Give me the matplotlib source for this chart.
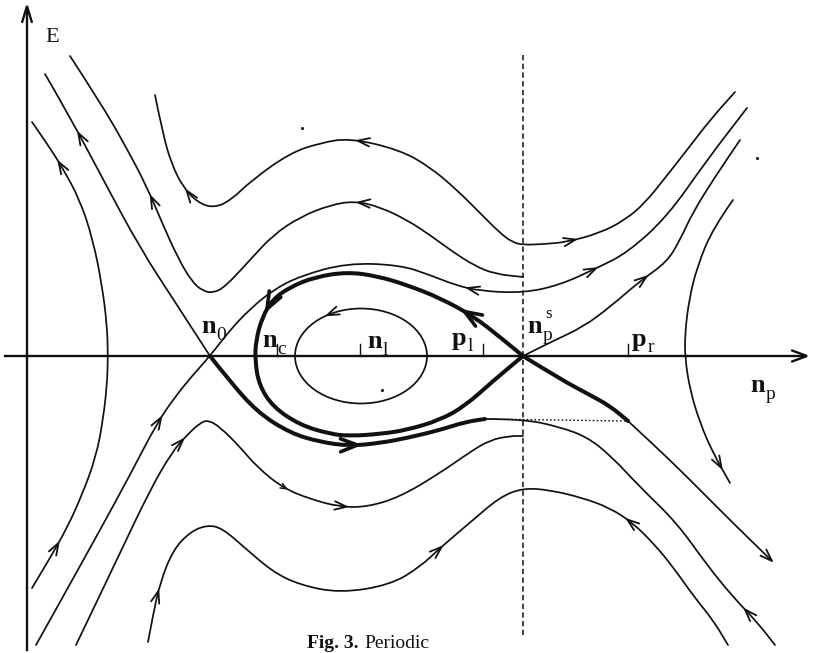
import numpy as np
import matplotlib
matplotlib.use("Agg")
import matplotlib.pyplot as plt
from matplotlib.path import Path
from matplotlib.patches import PathPatch, Ellipse

# ---------------- data (sketch coordinates, pixel units, y downward) ----------------
axis_y = 356          # E = 0 line
axis_x = 27           # n_p = 0 line
np_s_x = 523          # position of n_p^s (dashed line)
tick_x = [277, 360, 483, 628]          # n_c, n_l, p_l, p_r ticks

orbit_top = [(155, 95), (163, 135), (172, 165), (183, 187), (197, 202), (213, 208), (230, 201),
             (252, 180), (290, 153), (320, 143), (350, 138), (400, 150), (430, 167), (457, 190),
             (480, 213), (500, 233), (512, 242), (523, 245), (545, 244), (567, 242), (600, 233),
             (625, 220), (645, 203), (665, 178), (687, 150), (710, 120), (735, 92)]
orbit_upper = [(70, 56), (100, 102), (125, 145), (147, 187), (163, 225), (178, 258), (192, 282),
               (203, 291), (213, 293), (225, 287), (250, 260), (273, 235), (300, 217), (330, 205),
               (355, 201), (380, 207), (407, 220), (430, 235), (453, 252), (475, 266), (495, 274),
               (523, 277)]
sep_n0_upleft = [(45, 74), (70, 117), (105, 183), (140, 248), (175, 302), (210, 356)]
sep_n0_lowleft = [(36, 645), (50, 620), (75, 575), (100, 530), (130, 475), (157, 423), (175, 397),
                  (192, 376), (210, 356), (230, 330), (250, 309), (273, 290), (300, 276), (347, 263),
                  (400, 265), (430, 275), (455, 285), (480, 291), (523, 293), (560, 285), (597, 268),
                  (627, 253), (667, 217), (707, 160), (747, 108)]
sep_nps_upright = [(523, 356), (553, 341), (583, 327), (610, 307), (640, 281), (667, 262),
                   (680, 240), (693, 212), (715, 177), (740, 140)]
right_branch = [(733, 200), (713, 228), (697, 267), (689, 300), (685, 333), (685, 358), (690, 390),
                (700, 423), (713, 453), (730, 483)]
left_branch = [(32, 122), (48, 145), (62, 167), (80, 200), (93, 240), (102, 285), (107, 325),
               (108, 356), (107, 385), (103, 420), (96, 457), (82, 495), (67, 528), (50, 558),
               (32, 588)]
orbit_lower = [(76, 645), (88, 620), (120, 553), (150, 490), (172, 452), (187, 435), (200, 423),
               (208, 420), (220, 427), (240, 447), (257, 467), (283, 488), (310, 499), (340, 507),
               (367, 507), (400, 497), (440, 473), (470, 452), (490, 440), (510, 436), (523, 436)]
orbit_bottom = [(148, 642), (153, 615), (160, 583), (173, 550), (190, 532), (207, 525), (222, 528),
                (245, 548), (273, 572), (300, 585), (340, 593), (390, 585), (420, 567), (440, 548),
                (473, 520), (500, 497), (523, 488), (550, 490), (583, 498), (610, 508), (633, 523),
                (655, 545), (673, 567), (695, 598), (713, 620), (728, 645)]
thick_outer = [(210, 356), (228, 379), (257, 412), (290, 433), (320, 442), (350, 446), (380, 443),
               (407, 438), (440, 430), (465, 422), (485, 419)]
outer_cont = [(485, 419), (523, 419), (560, 427), (587, 437), (610, 455), (640, 487), (677, 523),
              (707, 565), (733, 597), (757, 622), (775, 645)]
thick_loop = [(523, 356), (500, 337), (473, 316), (440, 298), (407, 285), (377, 276), (347, 272),
              (315, 277), (290, 287), (272, 300), (262, 318), (256, 340), (255, 360), (259, 385),
              (273, 407), (300, 425), (330, 434), (350, 436), (380, 434), (407, 430), (440, 420),
              (465, 406), (493, 381), (523, 356)]
thick_sep_right = [(523, 356), (560, 379), (590, 395), (610, 406), (628, 421)]
sep_right_cont = [(628, 421), (655, 446), (680, 470), (700, 490), (735, 525), (772, 561)]
inner_orbit = dict(center=(361, 356), width=132, height=95)
dotted_level = [(480, 419), (628, 421)]

thin_curves = {
    "orbit_top": orbit_top, "orbit_upper": orbit_upper, "sep_n0_upleft": sep_n0_upleft,
    "sep_n0_lowleft": sep_n0_lowleft, "sep_nps_upright": sep_nps_upright,
    "right_branch": right_branch, "left_branch": left_branch, "orbit_lower": orbit_lower,
    "orbit_bottom": orbit_bottom, "outer_cont": outer_cont, "sep_right_cont": sep_right_cont,
}
thick_curves = {"thick_outer": thick_outer, "thick_loop": thick_loop,
                "thick_sep_right": thick_sep_right}

# arrows: curve, approx location, direction (+1 along point order), size
arrows = [
    ("orbit_top", (183, 187), -1, "n"), ("orbit_top", (357, 139), -1, "n"),
    ("orbit_top", (573, 240), 1, "n"),
    ("orbit_upper", (147, 187), -1, "n"), ("orbit_upper", (360, 202), -1, "n"),
    ("sep_n0_upleft", (70, 117), -1, "n"),
    ("sep_n0_lowleft", (157, 423), 1, "n"), ("sep_n0_lowleft", (470, 289), -1, "n"),
    ("sep_n0_lowleft", (597, 268), 1, "n"),
    ("sep_nps_upright", (640, 281), 1, "n"),
    ("right_branch", (722, 470), 1, "n"),
    ("left_branch", (62, 167), -1, "n"), ("left_branch", (60, 545), -1, "n"),
    ("orbit_lower", (186, 436), 1, "n"), ("orbit_lower", (285, 489), 1, "s"),
    ("orbit_lower", (348, 508), 1, "n"),
    ("orbit_bottom", (160, 583), 1, "n"), ("orbit_bottom", (443, 545), 1, "n"),
    ("orbit_bottom", (633, 523), -1, "n"),
    ("outer_cont", (748, 610), -1, "n"),
    ("sep_right_cont", (768, 557), 1, "n"),
    ("thick_loop", (470, 315), 1, "t"), ("thick_loop", (264, 308), 1, "t"),
    ("thick_outer", (356, 446), 1, "t"),
]

labels = [  # (base, sub, sup, x, y)
    ("n", "0", "", 201, 333), ("n", "c", "", 262, 347), ("n", "l", "", 367, 348),
    ("p", "l", "", 452, 345), ("n", "p", "s", 527, 333), ("p", "r", "", 632, 346),
    ("n", "p", "", 750, 392),
]
dots = [(382, 390), (302, 128), (757, 158)]
caption_bold = "Fig. 3."
caption_rest = "Periodic"

# ---------------- drawing ----------------
W, H = 813, 653
INK = "#111111"
fig = plt.figure(figsize=(W / 100, H / 100), dpi=100)
ax = fig.add_axes([0, 0, 1, 1])
ax.set_xlim(0, W)
ax.set_ylim(H, 0)
ax.set_aspect("auto")
ax.axis("off")


def smooth_path(pts):
    pts = np.asarray(pts, float)
    verts = [pts[0]]
    codes = [Path.MOVETO]
    for i in range(1, len(pts) - 1):
        mid = (pts[i] + pts[i + 1]) / 2
        verts += [pts[i], mid]
        codes += [Path.CURVE3, Path.CURVE3]
    verts.append(pts[-1])
    codes.append(Path.LINETO)
    return Path(verts, codes)


paths = {}
for name, pts in thin_curves.items():
    p = smooth_path(pts)
    paths[name] = p
    ax.add_patch(PathPatch(p, fill=False, lw=1.25, ec=INK, capstyle="round", joinstyle="round"))
for name, pts in thick_curves.items():
    p = smooth_path(pts)
    paths[name] = p
    ax.add_patch(PathPatch(p, fill=False, lw=2.9, ec=INK, capstyle="round", joinstyle="round"))

ell = Ellipse(inner_orbit["center"], inner_orbit["width"], inner_orbit["height"],
              fill=False, lw=1.25, ec=INK)
ax.add_patch(ell)


def head(tip, d, L, w, lw):
    d = d / np.hypot(*d)
    n = np.array([-d[1], d[0]])
    a = tip - L * d + w * n
    b = tip - L * d - w * n
    ax.plot([a[0], tip[0], b[0]], [a[1], tip[1], b[1]], color=INK, lw=lw,
            solid_capstyle="round", solid_joinstyle="miter")


sizes = {"n": (12, 4.2, 1.3), "s": (6, 2.5, 1.1), "t": (17, 6.5, 2.6)}
for name, loc, sgn, kind in arrows:
    poly = paths[name].to_polygons(closed_only=False)[0]
    loc = np.asarray(loc, float)
    j = int(np.argmin(np.hypot(*(poly - loc).T)))
    d = poly[min(j + 1, len(poly) - 1)] - poly[max(j - 1, 0)]
    L, w, lw = sizes[kind]
    head(poly[j], sgn * d, L, w, lw)

# ellipse arrow (top-left, going counter-clockwise on screen)
cx, cy = inner_orbit["center"]
a_, b_ = inner_orbit["width"] / 2, inner_orbit["height"] / 2
th = np.deg2rad(121)
tip = np.array([cx + a_ * np.cos(th), cy - b_ * np.sin(th)])
head(tip, np.array([-a_ * np.sin(th), -b_ * np.cos(th)]), 12, 4.2, 1.3)

# axes
ax.plot([5, 805], [axis_y, axis_y], color=INK, lw=1.7)
head(np.array([807.0, axis_y]), np.array([1.0, 0.0]), 15, 5.5, 1.7)
ax.plot([axis_x, axis_x], [650, 8], color=INK, lw=1.7)
head(np.array([axis_x, 6.0]), np.array([0.0, -1.0]), 16, 4.8, 1.7)

# dashed line at n_p^s and dotted level
ax.plot([np_s_x, np_s_x], [55, 635], color=INK, lw=1.1, dashes=(3.5, 2.2))
ax.plot(*zip(*dotted_level), color=INK, lw=1.0, dashes=(1.2, 1.6))

# ticks
for tx in tick_x:
    ax.plot([tx, tx], [axis_y - 12, axis_y], color=INK, lw=1.0)

for dx, dy in dots:
    ax.plot(dx, dy, "o", color=INK, ms=2.2, mew=0)

# labels
serif = "Liberation Serif"
for base, sub, sup, x, y in labels:
    ax.text(x, y, base, fontsize=19, fontweight="bold", family=serif, color=INK,
            ha="left", va="baseline")
    ax.text(x + 15.5, y + (7 if base == "n" else 6), sub, fontsize=14, family=serif, color=INK,
            ha="left", va="baseline")
    if sup:
        ax.text(x + 18, y - 15, sup, fontsize=12, family=serif, color=INK,
                ha="left", va="baseline")
ax.text(45, 42, "E", fontsize=16, family=serif, color=INK, ha="left", va="baseline")

# caption at the bottom edge
ax.text(307, 648, caption_bold, fontsize=14, fontweight="bold", family=serif, color=INK,
        ha="left", va="baseline")
ax.text(364, 648, caption_rest, fontsize=14, family=serif, color=INK,
        ha="left", va="baseline")

fig.savefig("out.png", dpi=100, facecolor="white")
